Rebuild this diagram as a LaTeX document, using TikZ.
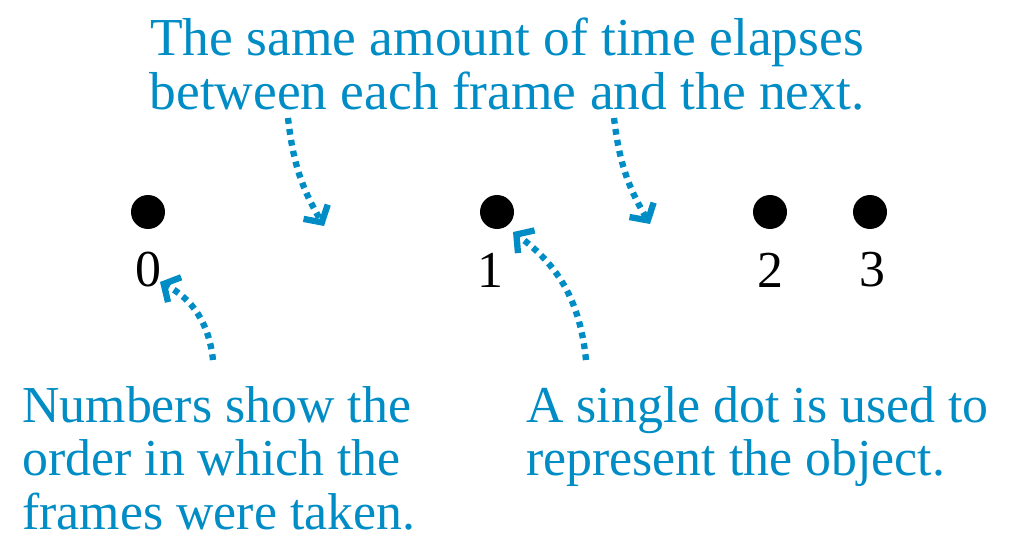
\documentclass[tikz,border=0pt]{standalone}
\usepackage{fontspec}
\setmainfont{Liberation Serif}
\usepackage{tikz}
\usetikzlibrary{arrows.meta}

\definecolor{noteblue}{RGB}{0,140,196}

\tikzset{
  note/.style={text=noteblue, font=\fontsize{29.5}{30.4}\selectfont, inner sep=0pt},
  heading/.style={text=noteblue, font=\fontsize{30.4}{31}\selectfont, inner sep=0pt},
  framenum/.style={font=\fontsize{29.5}{31}\selectfont, inner sep=0pt},
  dotmark/.style={circle, fill=black, minimum size=0.68cm, inner sep=0pt},
  pointer/.style={noteblue, line width=3.6pt, dash pattern=on 3.3pt off 3pt,
    -{Straight Barb[length=7pt, width=16pt, line width=3.6pt]}}
}

\begin{document}
\begin{tikzpicture}[x=0.02cm, y=-0.02cm]
    \useasboundingbox (0,0) rectangle (1011,541);
    % caption on top
    \node[heading, align=center] (title) at (507,64) {The same amount of time elapses\\between each frame and the next.};
    % the frames
    \node[dotmark] (d0) at (148,212) {};
    \node[dotmark] (d1) at (497,212) {};
    \node[dotmark] (d2) at (770,212) {};
    \node[dotmark] (d3) at (870,212) {};
    \node[framenum] (n0) at (148,270) {0};
    \node[framenum] (n1) at (490,270) {1};
    \node[framenum] (n2) at (770,270) {2};
    \node[framenum] (n3) at (872,270) {3};
    % notes below
    \node[note, align=left, anchor=north west] (numnote) at (22,386) {Numbers show the\\order in which the\\frames were taken.};
    \node[note, align=left, anchor=north west] (dotnote) at (526,386) {A single dot is used to\\represent the object.};
    % pointer ends
    \coordinate (p1s) at (288,118);
    \coordinate (p1e) at (324,226);
    \coordinate (p2s) at (614,118);
    \coordinate (p2e) at (650,224);
    \coordinate (p3s) at (213,360);
    \coordinate (p3e) at (160,282);
    \coordinate (p4s) at (586,360);
    \coordinate (p4e) at (513,232);
    \draw[pointer] (p1s) to[bend right=12] (p1e);
    \draw[pointer] (p2s) to[bend right=12] (p2e);
    \draw[pointer] (p3s) to[bend right=28] (p3e);
    \draw[pointer] (p4s) to[bend right=24] (p4e);
\end{tikzpicture}
\end{document}
